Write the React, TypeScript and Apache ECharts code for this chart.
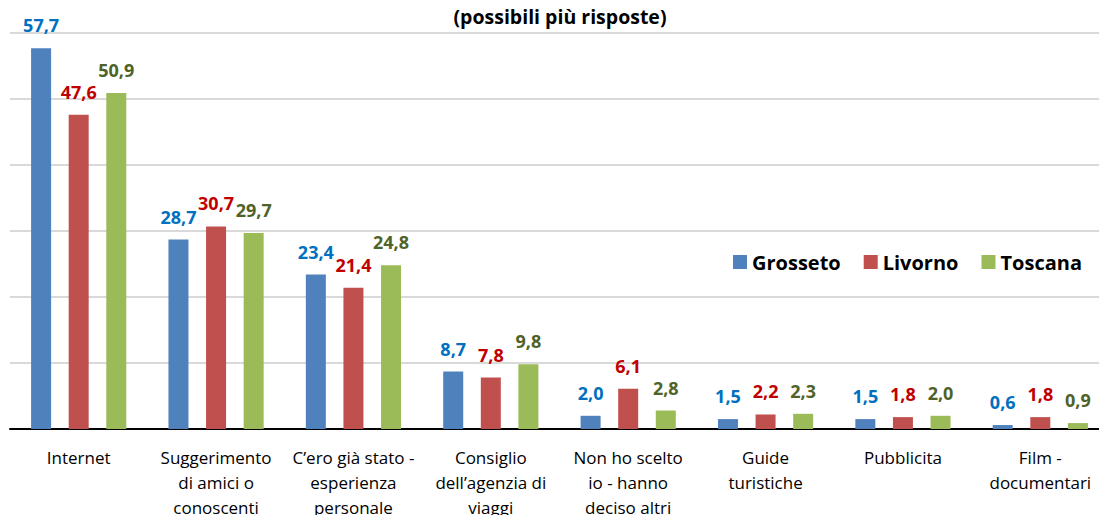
import React, { useEffect, useRef } from "react";
import * as echarts from "echarts";

const categories = [
  "Internet",
  "Suggerimento\ndi amici o\nconoscenti",
  "C’ero già stato -\nesperienza\npersonale",
  "Consiglio\ndell’agenzia di\nviaggi",
  "Non ho scelto\nio - hanno\ndeciso altri",
  "Guide\nturistiche",
  "Pubblicita",
  "Film -\ndocumentari",
];
const grosseto = [57.7, 28.7, 23.4, 8.7, 2.0, 1.5, 1.5, 0.6];
const livorno = [47.6, 30.7, 21.4, 7.8, 6.1, 2.2, 1.8, 1.8];
const toscana = [50.9, 29.7, 24.8, 9.8, 2.8, 2.3, 2.0, 0.9];
const seriesNames = ["Grosseto", "Livorno", "Toscana"];
const barColors = ["#4F81BD", "#C0504D", "#9BBB59"];
const labelColors = ["#0070C0", "#C00000", "#4F6228"];
const titleText = "(possibili più risposte)";

const FONT = "'Open Sans', sans-serif";

export default function App() {
  const ref = useRef<HTMLDivElement>(null);
  useEffect(() => {
    if (!ref.current) return;
    const chart = echarts.init(ref.current, undefined, { renderer: "svg" });
    const datas = [grosseto, livorno, toscana];
    chart.setOption({
      animation: false,
      backgroundColor: "#ffffff",
      title: {
        text: titleText,
        left: 560,
        textAlign: "center",
        top: 6,
        padding: 0,
        textStyle: { fontFamily: FONT, fontSize: 19.5, fontWeight: "bold", color: "#000" },
      },
      legend: {
        left: 733,
        top: 252,
        itemWidth: 14,
        itemHeight: 14,
        itemGap: 23,
        icon: "rect",
        padding: 0,
        textStyle: { fontFamily: FONT, fontSize: 20, fontWeight: "bold", color: "#000" },
        data: seriesNames,
      },
      grid: {
        left: 10,
        top: 33,
        bottom: 86,
        width: 1099,
        containLabel: false,
        outerBoundsMode: "none",
      },
      xAxis: {
        type: "category",
        data: categories,
        axisLine: { lineStyle: { color: "#000", width: 2 } },
        axisTick: { show: false },
        axisLabel: {
          interval: 0,
          margin: 16,
          fontFamily: FONT,
          fontSize: 17,
          lineHeight: 25,
          color: "#000",
        },
      },
      yAxis: {
        type: "value",
        min: 0,
        max: 60,
        interval: 10,
        axisLabel: { show: false },
        axisLine: { show: false },
        axisTick: { show: false },
        splitLine: { lineStyle: { color: "#D9D9D9", width: 2 } },
      },
      series: datas.map((d, i) => ({
        name: seriesNames[i],
        type: "bar",
        data: d,
        barWidth: 20,
        barGap: "88%",
        itemStyle: { color: barColors[i] },
        label: {
          show: true,
          position: "top",
          distance: 14,
          fontFamily: FONT,
          fontSize: 18,
          fontWeight: "bold",
          color: labelColors[i],
          formatter: (p: any) => p.value.toFixed(1).replace(".", ","),
        },
      })),
    });
    return () => chart.dispose();
  }, []);
  return (
    <div
      ref={ref}
      style={{ position: "fixed", left: 0, top: 0, width: 1099, height: 515 }}
    />
  );
}
